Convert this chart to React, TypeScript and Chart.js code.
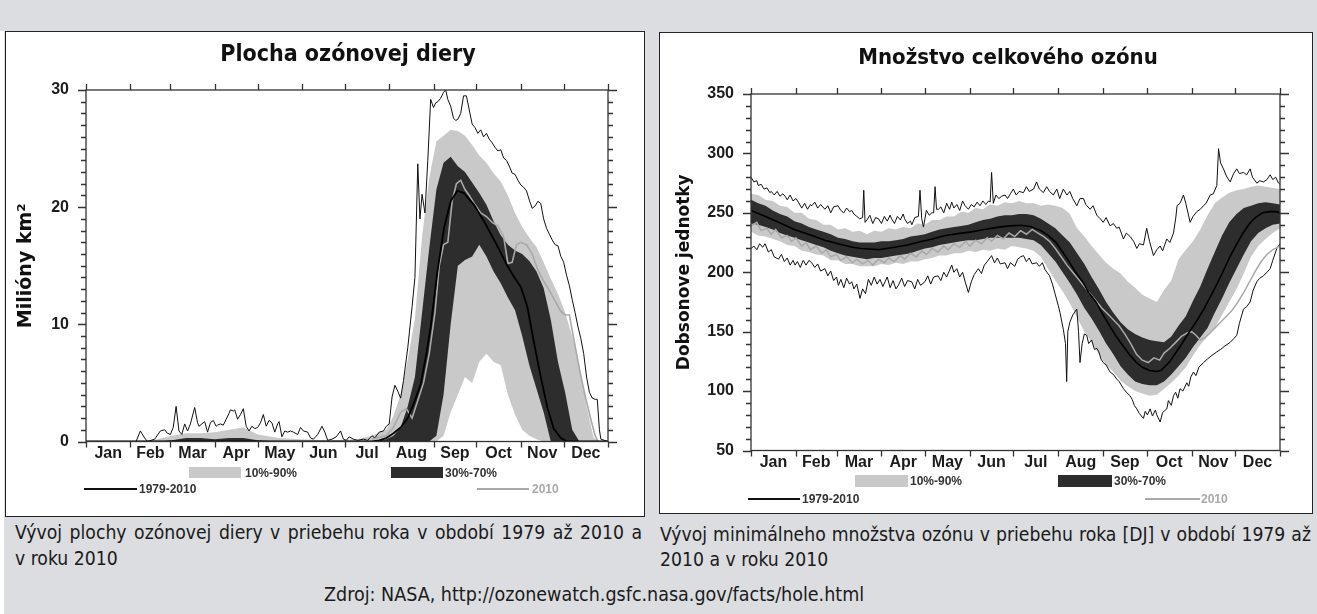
import React, { useEffect, useRef } from "react";
import { Chart, registerables } from "chart.js";
Chart.register(...registerables);

// ---------- shared axis data ----------
const MONTHS = ["Jan", "Feb", "Mar", "Apr", "May", "Jun", "Jul", "Aug", "Sep", "Oct", "Nov", "Dec"];
const MONTH_EDGES = [0, 31, 59, 90, 120, 151, 181, 212, 243, 273, 304, 334, 365];
const MONTH_MIDS = [15.5, 45, 74.5, 105, 135.5, 166, 196.5, 227.5, 258, 288.5, 319, 349.5];

// ---------- left chart: ozone hole area (million km2) ----------
const LEFT_Y_TICKS = [0, 10, 20, 30];
// [day, p10, p30, p70, p90]
const LEFT_BANDS: number[][] = [
  [0, 0, 0, 0, 0], [35, 0, 0, 0, 0], [50, 0, 0, 0, 0.2], [60, 0, 0, 0.1, 0.5], [70, 0, 0, 0.3, 0.7],
  [80, 0, 0, 0.3, 0.7], [90, 0, 0, 0.2, 0.8], [100, 0, 0, 0.3, 1.0], [110, 0, 0, 0.3, 1.2], [120, 0, 0, 0.1, 0.6],
  [135, 0, 0, 0, 0.3], [150, 0, 0, 0, 0.2], [170, 0, 0, 0, 0.1], [190, 0, 0, 0, 0.2], [200, 0, 0, 0, 0.5],
  [205, 0, 0, 0.1, 0.8], [210, 0, 0, 0.2, 1.0], [215, 0, 0, 0.5, 2.2], [220, 0, 0, 1.2, 4.0], [225, 0, 0, 3, 7],
  [230, 0, 0, 5.5, 10.5], [235, 0, 0, 11, 17.5], [240, 0, 0, 16.5, 22.5], [245, 0, 0.5, 21.5, 25.6],
  [250, 0.5, 4, 23.8, 26.1], [255, 2.5, 10, 24.3, 26.6], [260, 4, 15, 23.5, 26.5], [265, 5.5, 15.5, 23, 26.1],
  [270, 5, 15.8, 22.1, 25.3], [275, 6.8, 16.8, 21.2, 24.4], [280, 7.5, 15.8, 20.2, 23.8], [285, 6.8, 14.5, 18.8, 22.9],
  [290, 6.5, 13.5, 17.6, 22.2], [295, 4, 12.3, 16.8, 21], [300, 2.3, 11.2, 16.3, 19.5], [305, 1, 9, 16, 18.3],
  [310, 0.5, 6.5, 15.4, 17.4], [315, 0.2, 4.5, 14.5, 16.6], [320, 0, 2.5, 13.1, 15.3], [325, 0, 0, 10.4, 13.9],
  [330, 0, 0, 6.8, 12.6], [335, 0, 0, 4.2, 11], [340, 0, 0, 1, 9], [345, 0, 0, 0, 6.5], [350, 0, 0, 0, 3],
  [355, 0, 0, 0, 0.3], [360, 0, 0, 0, 0], [365, 0, 0, 0, 0],
];
const LEFT_MAX: number[][] = [
  [0, 0], [30, 0], [35, 0], [38, 0.9], [41, 0.3], [43, 0], [48, 0.2], [52, 0.9], [55, 1.0], [57, 0.7], [59, 0.6],
  [61, 1.2], [63, 3.0], [65, 0.9], [67, 0.6], [69, 1.5], [71, 0.9], [73, 1.5], [76, 2.9], [78, 1.6], [79, 1.3],
  [81, 1.5], [83, 1.7], [85, 0.8], [87, 1.6], [89, 1.8], [91, 1.3], [92, 1.4], [94, 1.5], [96, 1.4], [98, 1.9],
  [100, 2.4], [101, 2.7], [103, 2.6], [104, 2.7], [106, 1.9], [108, 2.3], [110, 2.8], [112, 1.3], [114, 0.9],
  [116, 1.3], [118, 1.1], [120, 1.2], [122, 1.6], [124, 2.3], [126, 1.3], [128, 1.8], [130, 1.6], [132, 0.8],
  [134, 1.5], [135, 1.7], [137, 0.4], [139, 0.9], [141, 0.8], [143, 0.9], [145, 0.8], [148, 0.6], [150, 1.2],
  [152, 0.9], [155, 0.8], [157, 0.3], [159, 0.2], [162, 0.6], [165, 1.3], [167, 0.8], [169, 0.1], [172, 0.2],
  [175, 0.4], [178, 0.9], [180, 0.2], [182, 0.1], [184, 0.4], [187, 0.2], [190, 0.1], [194, 0.2], [197, 0.1],
  [200, 0.5], [202, 0.3], [205, 0.8], [208, 0.9], [210, 1.3], [212, 1.5], [214, 3.8], [216, 4.8], [218, 4.3],
  [220, 3.7], [222, 5.2], [225, 8], [228, 11.5], [230, 14], [232, 23.7], [233.5, 19], [235, 21.1], [237, 19.5],
  [239, 24], [241, 29.2], [243, 28.5], [244.5, 28.9], [246, 29], [248, 29.3], [250, 29.8], [251.5, 30],
  [253, 29.2], [255, 28.6], [257, 27.6], [258.5, 27.4], [260, 27.5], [262, 28], [264, 29.5], [266, 29.5],
  [268, 28.3], [270, 27.1], [272, 26.8], [274, 26.3], [276, 26.6], [278, 26], [280, 26.3], [282, 25.8],
  [284, 25.5], [286, 25.1], [288, 24.8], [290, 24.9], [292, 24.2], [294, 24], [296, 23.5], [298, 22.9],
  [300, 22.8], [302, 22.3], [304, 21.9], [306, 21.7], [308, 21.4], [310, 20.6], [312, 19.9], [314, 20.1],
  [316, 20.5], [318, 20.3], [320, 19], [322, 18.2], [324, 17.7], [326, 17.2], [328, 16.8], [330, 16.7],
  [332, 15.8], [334, 15.3], [336, 14.2], [338, 13.3], [340, 12.1], [342, 11], [344, 9.8], [346, 8.8],
  [348, 7.5], [350, 5.5], [352, 4.2], [354, 3.7], [356, 3.6], [357.5, 3.6], [359, 1], [360, 0.2], [365, 0],
];
const LEFT_MEAN: number[][] = [
  [0, 0], [200, 0], [205, 0.1], [210, 0.3], [215, 0.7], [220, 1.2], [225, 2.0], [230, 3.5], [234, 4.9],
  [238, 7.5], [241, 9.8], [245.6, 14.4], [250.3, 18.2], [255, 20.5], [259.6, 21.4], [264.3, 21.2],
  [271.3, 20.2], [278.3, 18.8], [287.6, 16.7], [294.6, 15], [299, 14.1], [304, 13.2], [308.6, 11.5],
  [313, 8.6], [318, 5.5], [322.6, 2.9], [327, 1.1], [332, 0.3], [336.5, 0], [365, 0],
];
const LEFT_2010: number[][] = [
  [200, 0.2], [210, 0.5], [215, 1.2], [220, 2.5], [224, 2.8], [228, 2.0], [232, 3.5], [236, 5], [240, 7.5],
  [244, 11], [247, 15], [250, 16.8], [253, 17], [256, 20.5], [259, 22], [262, 22.3], [265, 21.5], [268, 21],
  [272, 20.2], [276, 19.5], [280, 19.2], [284, 18.7], [288, 18.4], [292, 17.5], [295, 15.2], [298, 15.3],
  [301, 16.8], [304, 17], [308, 16.8], [312, 16], [316, 14.6], [320, 13.7], [324, 12.9], [328, 12],
  [332, 11.1], [335, 10.8], [338, 10.8], [341, 8.8], [345, 6.2], [349, 3.9], [353, 1.9], [356, 0.5], [358, 0],
];

// ---------- right chart: total ozone minimum (DU) ----------
const RIGHT_Y_TICKS = [50, 100, 150, 200, 250, 300, 350];
// [day, p10, p30, p70, p90]
const RIGHT_BANDS: number[][] = [
  [0, 234, 241, 261, 266], [5, 231, 240, 258, 265], [10, 230, 238, 256, 261], [15, 228, 236, 252, 260],
  [20, 226, 233, 249, 256], [25, 223, 231, 247, 255], [30, 222, 229, 243, 250], [35, 218, 227, 241, 250],
  [40, 217, 225, 238, 245], [45, 215, 223, 236, 244], [50, 214, 221, 234, 240], [55, 210, 218, 232, 240],
  [60, 210, 216, 229, 236], [65, 207, 214, 228, 237], [70, 207, 213, 226, 234], [75, 205, 212, 225, 235],
  [80, 205, 211, 225, 232], [85, 205, 212, 225, 235], [90, 207, 212, 226, 234], [95, 206, 213, 226, 237],
  [100, 208, 214, 227, 236], [105, 207, 215, 228, 238], [110, 209, 216, 230, 237], [115, 209, 218, 231, 241],
  [120, 211, 220, 232, 240], [125, 212, 221, 234, 244], [130, 214, 223, 236, 244], [135, 214, 224, 237, 247],
  [140, 216, 225, 238, 247], [145, 216, 226, 239, 251], [150, 218, 227, 240, 250], [155, 217, 227, 242, 254],
  [160, 219, 228, 244, 253], [165, 218, 229, 245, 257], [170, 220, 229, 247, 256], [175, 219, 229, 248, 259],
  [180, 222, 229, 248, 258], [185, 221, 229, 249, 260], [190, 220, 228, 249, 258], [195, 218, 227, 248, 258],
  [200, 213, 223, 245, 256], [205, 203, 216, 241, 257], [210, 193, 209, 237, 256], [215, 184, 200, 231, 254],
  [220, 174, 191, 225, 249], [225, 162, 181, 216, 237], [230, 150, 170, 207, 230], [235, 141, 161, 196, 222],
  [240, 131, 151, 186, 215], [245, 122, 140, 175, 208], [250, 116, 131, 166, 203], [255, 109, 121, 158, 199],
  [260, 104, 114, 152, 192], [265, 100, 108, 148, 187], [270, 98, 106, 145, 181], [275, 96, 105, 143, 178],
  [280, 97, 105, 142, 175], [285, 102, 108, 141, 185], [290, 107, 114, 146, 193], [295, 113, 121, 155, 211],
  [300, 120, 128, 163, 219], [305, 130, 137, 176, 226], [310, 139, 145, 188, 236], [315, 146, 153, 203, 248],
  [320, 153, 166, 217, 258], [325, 164, 178, 231, 263], [330, 175, 191, 242, 267], [335, 186, 203, 249, 269],
  [340, 199, 215, 254, 270], [345, 213, 226, 256, 272], [350, 222, 233, 258, 273], [355, 228, 237, 259, 272],
  [360, 233, 240, 258, 271], [365, 237, 241, 257, 270],
];
const RIGHT_MEAN: number[][] = [
  [0, 252], [10, 247], [19, 242], [30, 236], [42, 231], [51, 227], [60, 224], [70, 221], [76, 220], [88, 219],
  [99, 221], [108, 223], [116, 225.5], [125, 228], [134, 231], [143, 232.5], [152, 234], [161, 236], [171, 238],
  [179, 239], [186, 239.5], [193, 238.5], [200, 235], [205, 231], [210.5, 225], [215, 217], [219.7, 208.5],
  [224, 200], [229, 191.7], [233, 183], [238, 175], [243, 164], [247.3, 155.2], [252, 146], [256.5, 138.4],
  [261, 131], [265.7, 124.4], [270, 120], [275, 117.3], [280, 116.5], [283, 117.5], [288.7, 124.4], [293, 132],
  [298, 141.2], [302, 149], [307, 158], [312, 168], [316.3, 177.7], [321, 189], [325.5, 200], [330, 212],
  [334.7, 222.6], [339, 232], [343.9, 240.8], [348, 246], [353, 250], [358, 251], [362, 251], [365, 250],
];
const RIGHT_MAX: number[][] = [
  [0, 280], [2, 276], [4, 277], [5, 273], [7, 274], [9, 270], [11, 271], [13, 267], [14, 268], [16, 265], [18, 268],
  [20, 264], [22, 266], [23.5, 264], [25, 261], [27, 265], [29, 260], [31, 262], [32.7, 259], [35, 254], [37, 258],
  [39, 253], [41, 257], [42, 256], [44, 259], [46, 254], [48, 257], [51, 253], [53, 256], [55, 250], [57, 255],
  [60, 256], [62, 252], [64, 250], [66, 254], [68, 251], [69.5, 252], [71, 249], [73, 247], [75, 245], [77, 246],
  [77.8, 269], [78.7, 242], [80, 244], [82, 248], [84, 241], [86, 246], [88, 245], [90, 241], [92, 247], [94, 243],
  [96, 248], [97, 245], [99, 241], [101, 247], [103, 244], [105, 249], [106, 245], [108, 241], [110, 243], [111, 240],
  [113, 246], [115.5, 247], [116.6, 269], [117.8, 245], [119, 238], [121, 252], [123, 248], [124.7, 250], [126, 250],
  [127, 272], [128, 253], [129.3, 253], [131, 255], [133, 250], [135, 258], [137, 253], [138.5, 259], [140, 254],
  [142, 257], [144, 252], [146, 260], [147.7, 256], [150, 253], [152, 257], [154, 255], [156, 259], [158, 256],
  [160, 260], [162, 257], [164, 260], [165, 259], [166, 284], [167.2, 258], [169, 265], [171, 262], [173, 264],
  [175.3, 265], [177, 262], [179, 266], [181, 270], [183, 265], [185, 268], [188, 267], [190, 272], [192, 268],
  [195, 270], [197, 276], [199, 270], [201.7, 267], [204, 272], [206, 268], [208.6, 265], [211, 270], [213, 262],
  [215.5, 270], [218, 265], [220, 268], [222, 262], [224.8, 256], [227, 262], [229.4, 262], [231, 257], [234, 253],
  [236, 256], [238.6, 248], [241, 245], [243, 242], [245, 246], [247.8, 239], [250, 241], [252.4, 237], [254, 238],
  [257, 228], [259, 233], [261.6, 230], [264, 226], [266.2, 220], [268, 224], [270.8, 223], [273, 237], [275, 226],
  [277.7, 214], [280, 219], [282.3, 222], [284, 218], [286.9, 228], [289, 225], [291.5, 233], [293, 245], [294, 256],
  [296, 258], [298.4, 265], [300, 258], [303, 242], [305, 247], [307.6, 251], [310, 253], [312.2, 256], [314, 258],
  [316.8, 265], [319, 266], [321.4, 273], [322.6, 304], [324, 292], [326, 287], [328, 281], [330.6, 276], [333, 283],
  [335.2, 287], [337, 283], [339.8, 284], [342, 282], [344.4, 287], [346, 280], [349, 275], [351, 277], [353.6, 276],
  [356, 278], [358.2, 282], [360, 278], [362, 280], [364, 275], [365, 274],
];
const RIGHT_MIN: number[][] = [
  [0, 220], [2, 222], [4, 219], [6, 224], [8, 221], [9.7, 224], [12, 217], [14, 219], [16, 213], [18.9, 211], [21, 215],
  [23, 209], [25, 212], [27, 206], [29, 210], [30.4, 206], [32, 209], [34, 204], [36, 210], [38, 206], [40, 210],
  [41.9, 208], [44, 204], [46, 207], [48, 201], [51, 203], [53, 197], [55, 201], [57, 193], [59, 196], [60.3, 189],
  [62, 194], [64, 187], [66, 195], [68, 190], [69.5, 192], [71, 186], [73, 190], [75.2, 178], [77, 186], [79, 182],
  [81, 194], [83, 189], [85, 196], [87, 190], [89, 194], [91, 188], [92.5, 192], [94, 196], [96, 187], [98, 193],
  [100, 186], [101.7, 189], [104, 195], [106, 188], [108, 193], [110.9, 192], [113, 186], [115, 194], [117, 189],
  [120, 192], [122, 197], [124, 190], [126, 196], [129, 197], [131, 193], [133, 200], [135, 196], [138.5, 206],
  [140, 200], [142, 203], [144, 196], [146, 200], [148, 191], [150, 183], [152, 192], [154, 198], [156.9, 203],
  [159, 199], [161, 206], [163, 209], [166, 214], [168, 208], [170, 212], [172, 207], [175.3, 208], [177, 203],
  [179, 208], [182, 205], [184, 211], [186, 213], [188, 214], [190, 209], [192, 212], [194, 207], [197, 208],
  [199, 205], [201, 208], [203, 202], [206, 197], [208, 190], [210, 181], [212, 172], [213.2, 166], [214.5, 158],
  [215.5, 152], [217, 140], [217.8, 108], [218.6, 150], [220, 158], [222, 164], [224.8, 169], [226, 150], [227, 124],
  [228.5, 140], [230, 148], [231.6, 147], [233, 140], [235, 143], [237, 135], [238.6, 136], [240, 133], [241.5, 127],
  [243, 124], [245, 122], [247.8, 116], [250, 114], [252.4, 110], [254, 108], [257, 102], [259, 99], [261.6, 96],
  [263, 93], [264.5, 88], [266.2, 85], [268, 81], [270.8, 77], [272, 83], [273.5, 80], [275.4, 85], [277, 79],
  [279, 84], [280, 80], [282.3, 74], [284, 82], [286.9, 85], [288, 92], [290, 88], [291.5, 96], [293, 99],
  [294.5, 94], [296, 102], [298, 100], [300.7, 107], [302, 104], [303.5, 112], [305.3, 116], [307, 113], [309, 120],
  [312.2, 124], [315, 127], [318, 130], [321.4, 133], [324, 135], [327, 138], [330.6, 141], [333, 144], [335.2, 147],
  [337, 157], [339.8, 169], [342, 171], [344.4, 175], [346.5, 185], [349, 192], [351, 195], [353.6, 197], [356, 200],
  [358.2, 203], [360, 210], [362.8, 220], [364, 222], [365, 224],
];
const RIGHT_2010: number[][] = [
  [0, 239], [4, 242], [7, 235], [11, 237], [14, 232], [17, 236], [21, 229], [25, 231], [28, 226], [31, 229],
  [35, 222], [38, 225], [41, 219], [45, 222], [49, 216], [52, 219], [55, 213], [59, 215], [62, 210], [66, 213],
  [70, 208], [73, 211], [77, 207], [81, 210], [84, 206], [88, 211], [92, 208], [95, 212], [99, 209], [103, 214],
  [106, 211], [110, 216], [114, 213], [118, 218], [121, 215], [125, 220], [129, 217], [133, 222], [136, 219],
  [140, 224], [144, 221], [148, 226], [151, 222], [155, 227], [159, 224], [163, 229], [166, 226], [170, 231],
  [174, 228], [178, 233], [182, 230], [186, 235], [190, 232], [194, 236], [198, 233], [202, 230], [206, 226],
  [210, 220], [214, 213], [218, 206], [222, 200], [226, 194], [230, 188], [234, 182], [238, 176], [242, 170],
  [246, 165], [250, 160], [254, 155], [258, 148], [262, 140], [266, 131], [270, 126], [274, 124], [278, 128],
  [282, 126], [285, 132], [289, 136], [293, 141], [297, 146], [301, 149], [304, 150], [307, 147], [310, 143],
  [313, 145], [316, 148], [320, 153], [324, 158], [328, 163], [332, 168], [336, 175], [340, 183], [344, 192],
  [348, 201], [352, 209], [356, 215], [360, 219], [365, 222],
];

// ---------- styling ----------
const LIGHT = "#c9c9c9";
const DARK = "#2d2d2d";
const GRAY_LINE = "#a9a9a9";
const TICK_FONT = { family: "'Liberation Sans', Arial, sans-serif", size: 16, weight: "bold" as const };

const col = (rows: number[][], i: number) => rows.map((r) => ({ x: r[0], y: r[i] }));

const framePlugin = {
  id: "frame",
  afterDraw(chart: any, _args: any, opts: any) {
    const { ctx, chartArea: a, scales } = chart;
    const xs = scales.x;
    const ys = scales.y;
    ctx.save();
    ctx.strokeStyle = "#333";
    ctx.lineWidth = 1.3;
    ctx.strokeRect(a.left, a.top, a.right - a.left, a.bottom - a.top);
    ctx.beginPath();
    for (const d of MONTH_EDGES) {
      const x = Math.round(xs.getPixelForValue(d)) + 0.5;
      ctx.moveTo(x, a.bottom);
      ctx.lineTo(x, a.bottom + 6);
      ctx.moveTo(x, a.top);
      ctx.lineTo(x, a.top - 6);
    }
    const n = Math.round((opts.max - opts.min) / opts.minor);
    for (let k = 0; k <= n; k++) {
      const v = opts.min + k * opts.minor;
      const y = Math.round(ys.getPixelForValue(v)) + 0.5;
      const r = v / opts.major;
      const major = Math.abs(r - Math.round(r)) < 1e-6;
      ctx.moveTo(a.left, y);
      ctx.lineTo(a.left - (major ? 8 : 5), y);
      ctx.moveTo(a.right, y);
      ctx.lineTo(a.right + (major ? 9 : 5), y);
    }
    ctx.stroke();
    ctx.restore();
  },
};

type ChartCfg = {
  width: number;
  height: number;
  bands: number[][];
  lines: { rows: number[][]; color: string; width: number }[];
  yMin: number;
  yMax: number;
  yTicks: number[];
  yMajor: number;
  yMinor: number;
  yTitle: string;
  yTitleSize: number;
  yTitlePad: number;
  axisWidth: number;
  pad: { left: number; right: number; top: number; bottom: number };
};

function OzoneChart({ cfg }: { cfg: ChartCfg }) {
  const ref = useRef<HTMLCanvasElement>(null);
  useEffect(() => {
    const transparent = "rgba(0,0,0,0)";
    const datasets: any[] = [
      { data: col(cfg.bands, 1), borderColor: transparent, pointRadius: 0, fill: false, order: 10 },
      { data: col(cfg.bands, 4), borderColor: transparent, pointRadius: 0, fill: "-1", backgroundColor: LIGHT, order: 10 },
      { data: col(cfg.bands, 2), borderColor: transparent, pointRadius: 0, fill: false, order: 8 },
      { data: col(cfg.bands, 3), borderColor: transparent, pointRadius: 0, fill: "-1", backgroundColor: DARK, order: 8 },
      ...cfg.lines.map((l, i) => ({
        data: l.rows.map((r) => ({ x: r[0], y: r[1] })),
        borderColor: l.color,
        borderWidth: l.width,
        pointRadius: 0,
        fill: false,
        order: 5 - i,
      })),
    ];
    const chart = new Chart(ref.current as HTMLCanvasElement, {
      type: "line",
      data: { datasets },
      plugins: [framePlugin],
      options: {
        responsive: false,
        animation: false,
        devicePixelRatio: 1,
        layout: { padding: cfg.pad },
        elements: { line: { tension: 0 } },
        plugins: {
          legend: { display: false },
          tooltip: { enabled: false },
          frame: { min: cfg.yMin, max: cfg.yMax, major: cfg.yMajor, minor: cfg.yMinor },
        } as any,
        scales: {
          x: {
            type: "linear",
            min: 0,
            max: 365,
            grid: { display: false, drawTicks: false },
            border: { display: false },
            afterBuildTicks: (s: any) => {
              s.ticks = MONTH_MIDS.map((v) => ({ value: v }));
            },
            afterFit: (s: any) => {
              s.height = 30;
            },
            ticks: {
              autoSkip: false,
              maxRotation: 0,
              padding: 2,
              color: "#1c1c1c",
              font: TICK_FONT,
              callback: (_v: any, i: number) => MONTHS[i],
            },
          },
          y: {
            type: "linear",
            min: cfg.yMin,
            max: cfg.yMax,
            grid: { display: false, drawTicks: false },
            border: { display: false },
            afterBuildTicks: (s: any) => {
              s.ticks = cfg.yTicks.map((v) => ({ value: v }));
            },
            afterFit: (s: any) => {
              s.width = cfg.axisWidth;
            },
            ticks: { padding: 17, color: "#1c1c1c", font: TICK_FONT },
            title: {
              display: true,
              text: cfg.yTitle,
              color: "#111",
              font: { family: "'DejaVu Sans', Verdana, sans-serif", size: cfg.yTitleSize, weight: "bold" },
              padding: { top: cfg.yTitlePad, bottom: 0 },
            },
          },
        },
      } as any,
    });
    return () => chart.destroy();
  }, [cfg]);
  return (
    <canvas
      ref={ref}
      width={cfg.width}
      height={cfg.height}
      style={{ position: "absolute", left: 0, top: 0, width: cfg.width, height: cfg.height }}
    />
  );
}

const LEFT_CFG: ChartCfg = {
  width: 638,
  height: 484,
  bands: LEFT_BANDS,
  lines: [
    { rows: LEFT_MAX, color: "#111", width: 1 },
    { rows: LEFT_2010, color: GRAY_LINE, width: 1.6 },
    { rows: LEFT_MEAN, color: "#000", width: 1.8 },
  ],
  yMin: 0,
  yMax: 30,
  yTicks: LEFT_Y_TICKS,
  yMajor: 10,
  yMinor: 1,
  yTitle: "Milióny km²",
  yTitleSize: 19,
  yTitlePad: 9,
  axisWidth: 80,
  pad: { left: 0, right: 36, top: 58, bottom: 44.5 },
};

const RIGHT_CFG: ChartCfg = {
  width: 652,
  height: 480,
  bands: RIGHT_BANDS,
  lines: [
    { rows: RIGHT_MAX, color: "#111", width: 1 },
    { rows: RIGHT_MIN, color: "#111", width: 1 },
    { rows: RIGHT_2010, color: GRAY_LINE, width: 1.5 },
    { rows: RIGHT_MEAN, color: "#000", width: 1.6 },
  ],
  yMin: 50,
  yMax: 350,
  yTicks: RIGHT_Y_TICKS,
  yMajor: 50,
  yMinor: 10,
  yTitle: "Dobsonove jednotky",
  yTitleSize: 17,
  yTitlePad: 14,
  axisWidth: 91,
  pad: { left: 0, right: 32, top: 61, bottom: 32.5 },
};

const abs = (o: React.CSSProperties): React.CSSProperties => ({ position: "absolute", ...o });
const legendText: React.CSSProperties = {
  position: "absolute",
  font: "bold 12px 'Liberation Sans', Arial, sans-serif",
  lineHeight: "16px",
  color: "#333",
  whiteSpace: "nowrap",
};
const captionFont: React.CSSProperties = {
  position: "absolute",
  fontFamily: "'DejaVu Sans Condensed', 'DejaVu Sans', sans-serif",
  fontStretch: "condensed",
  fontSize: 19.2,
  lineHeight: "26px",
  color: "#1a1a1a",
  whiteSpace: "nowrap",
};
const justified: React.CSSProperties = { textAlign: "justify", textAlignLast: "justify", whiteSpace: "normal" };
const titleFont: React.CSSProperties = {
  position: "absolute",
  fontFamily: "'DejaVu Sans Condensed', 'DejaVu Sans', sans-serif",
  fontStretch: "condensed",
  fontWeight: "bold",
  textAlign: "center",
  color: "#111",
  whiteSpace: "nowrap",
};

export default function App() {
  return (
    <div style={abs({ left: 0, top: 0, width: 1317, height: 614, background: "#dcdde0", overflow: "hidden" })}>
      <div style={abs({ left: 0, top: 31, width: 4, height: 583, background: "#fff" })} />

      {/* left panel */}
      <div style={abs({ left: 5, top: 31, width: 640, height: 486, border: "1px solid #222", boxSizing: "border-box", background: "#fff" })}>
        <OzoneChart cfg={LEFT_CFG} />
        <div style={{ ...titleFont, left: 142, top: 7, width: 400, fontSize: 23, lineHeight: "28px" }}>Plocha ozónovej diery</div>
      </div>

      {/* right panel */}
      <div style={abs({ left: 659, top: 32, width: 654, height: 482, border: "1px solid #222", boxSizing: "border-box", background: "#fff" })}>
        <OzoneChart cfg={RIGHT_CFG} />
        <div style={{ ...titleFont, left: 148, top: 11, width: 400, fontSize: 22, lineHeight: "26px" }}>Množstvo celkového ozónu</div>
      </div>

      {/* left legend */}
      <div style={abs({ left: 189, top: 467, width: 52, height: 11, background: LIGHT })} />
      <div style={{ ...legendText, left: 245, top: 465 }}>10%-90%</div>
      <div style={abs({ left: 391, top: 467, width: 52, height: 11, background: DARK })} />
      <div style={{ ...legendText, left: 445, top: 465 }}>30%-70%</div>
      <div style={abs({ left: 84, top: 488, width: 53, height: 2, background: "#111" })} />
      <div style={{ ...legendText, left: 139, top: 481 }}>1979-2010</div>
      <div style={abs({ left: 477, top: 488, width: 52, height: 2, background: GRAY_LINE })} />
      <div style={{ ...legendText, left: 532, top: 481, color: GRAY_LINE }}>2010</div>

      {/* right legend */}
      <div style={abs({ left: 855, top: 475, width: 53, height: 12, background: LIGHT })} />
      <div style={{ ...legendText, left: 910, top: 473 }}>10%-90%</div>
      <div style={abs({ left: 1058, top: 475, width: 54, height: 12, background: DARK })} />
      <div style={{ ...legendText, left: 1114, top: 473 }}>30%-70%</div>
      <div style={abs({ left: 748, top: 498, width: 52, height: 2, background: "#111" })} />
      <div style={{ ...legendText, left: 802, top: 491 }}>1979-2010</div>
      <div style={abs({ left: 1145, top: 498, width: 55, height: 2, background: GRAY_LINE })} />
      <div style={{ ...legendText, left: 1201, top: 491, color: GRAY_LINE }}>2010</div>

      {/* captions */}
      <div style={{ ...captionFont, ...justified, left: 15, top: 520, width: 627 }}>
        Vývoj plochy ozónovej diery v priebehu roka v období 1979 až 2010 a
      </div>
      <div style={{ ...captionFont, left: 15, top: 546 }}>v roku 2010</div>
      <div style={{ ...captionFont, ...justified, left: 660, top: 522, width: 651 }}>
        Vývoj minimálneho množstva ozónu v priebehu roka [DJ] v období 1979 až
      </div>
      <div style={{ ...captionFont, left: 660, top: 547 }}>2010 a v roku 2010</div>
      <div style={{ ...captionFont, left: 324, top: 582, fontSize: 19.5 }}>Zdroj: NASA, http://ozonewatch.gsfc.nasa.gov/facts/hole.html</div>
    </div>
  );
}
